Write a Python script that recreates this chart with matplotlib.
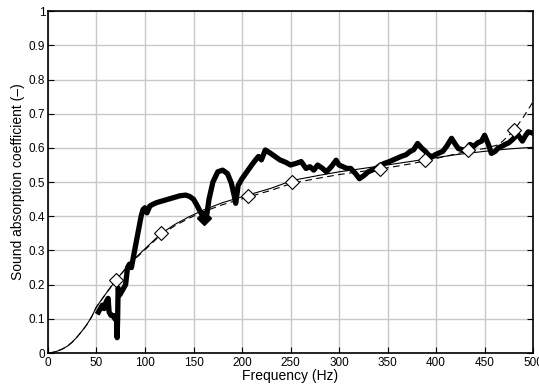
import matplotlib
matplotlib.use("Agg")
import matplotlib.pyplot as plt
import numpy as np

plt.rcParams['font.family'] = ['Liberation Sans', 'DejaVu Sans']

# measured absorption (thick line)
meas_f = [52, 54, 56, 58, 60, 62, 63, 65, 67, 69, 70.5, 71.3, 71.8, 72.3, 74, 76, 78, 80, 82, 84,
          86, 88, 90, 92, 94, 96, 98, 100, 102, 105, 108, 112, 118, 124, 130, 136, 142, 146,
          150, 154, 157, 160, 162, 164, 166, 170, 175, 180, 185, 189, 192, 193.5, 196, 200,
          205, 210, 214, 217, 220, 224, 229, 234, 239, 245, 250, 256, 261, 266, 270, 274, 278,
          283, 287, 292, 297, 300, 304, 308, 312, 317, 321, 326, 330, 334, 338, 343, 347, 352,
          356, 360, 364, 369, 373, 377, 381, 385, 389, 392, 396, 399, 403, 407, 411, 416, 420,
          423, 427, 430, 435, 439, 443, 447, 450, 454, 457, 461, 464, 468, 471, 475, 479, 484,
          489, 492, 495, 500]
meas_a = [0.12, 0.13, 0.14, 0.13, 0.15, 0.16, 0.12, 0.11, 0.11, 0.10, 0.11, 0.045, 0.10, 0.19,
          0.17, 0.18, 0.19, 0.20, 0.25, 0.26, 0.25, 0.28, 0.31, 0.34, 0.37, 0.40, 0.42, 0.425,
          0.41, 0.43, 0.435, 0.44, 0.445, 0.45, 0.455, 0.46, 0.462, 0.458, 0.45, 0.43, 0.413,
          0.40, 0.39, 0.41, 0.45, 0.50, 0.53, 0.535, 0.525, 0.497, 0.46, 0.438, 0.49, 0.51,
          0.53, 0.55, 0.565, 0.575, 0.565, 0.594, 0.585, 0.575, 0.565, 0.558, 0.55, 0.555,
          0.56, 0.54, 0.545, 0.535, 0.55, 0.54, 0.53, 0.545, 0.564, 0.55, 0.545, 0.54, 0.54,
          0.525, 0.51, 0.52, 0.53, 0.535, 0.54, 0.55, 0.555, 0.56, 0.565, 0.57, 0.575, 0.58,
          0.589, 0.595, 0.613, 0.60, 0.59, 0.58, 0.574, 0.58, 0.585, 0.59, 0.605, 0.628, 0.61,
          0.598, 0.595, 0.59, 0.61, 0.605, 0.615, 0.62, 0.637, 0.61, 0.584, 0.59, 0.60, 0.605,
          0.61, 0.615, 0.625, 0.64, 0.62, 0.635, 0.647, 0.643]

# model curve (thin solid)
model_f = [0, 5, 10, 15, 20, 25, 30, 35, 40, 45, 50, 60, 70, 80, 90, 100, 116, 130, 145, 160,
           180, 206, 230, 252, 280, 300, 320, 342, 373, 389, 420, 450, 475, 500]
model_a = [0, 0.002, 0.006, 0.012, 0.02, 0.032, 0.047, 0.064, 0.083, 0.106, 0.135, 0.175,
           0.213, 0.247, 0.278, 0.305, 0.348, 0.375, 0.398, 0.418, 0.44, 0.462, 0.482, 0.505,
           0.52, 0.53, 0.538, 0.547, 0.56, 0.567, 0.58, 0.59, 0.597, 0.602]

# second model (thin dashed)
model2_f = [0, 5, 10, 15, 20, 25, 30, 35, 40, 45, 50, 60, 70, 80, 90, 100, 116, 130, 145, 160,
            180, 206, 230, 252, 280, 300, 320, 342, 373, 389, 420, 433, 450, 465, 480, 490, 500]
model2_a = [0, 0.002, 0.006, 0.012, 0.02, 0.032, 0.047, 0.064, 0.083, 0.106, 0.135, 0.175,
            0.213, 0.246, 0.276, 0.302, 0.345, 0.371, 0.394, 0.413, 0.434, 0.456, 0.476, 0.497,
            0.512, 0.522, 0.53, 0.538, 0.553, 0.562, 0.582, 0.591, 0.598, 0.61, 0.65, 0.69, 0.735]

# diamond markers on the dashed curve
mark_f = [70, 116.5, 206, 252, 342, 389, 433, 480]
mark_a = [0.213, 0.35, 0.459, 0.50, 0.537, 0.566, 0.594, 0.652]
mark_filled_f = [161]
mark_filled_a = [0.394]

fig = plt.figure(figsize=(5.39, 3.85), dpi=100)
ax = fig.add_axes([0.089, 0.083, 0.9, 0.888])

ax.plot(meas_f, meas_a, color='black', lw=3.8, solid_joinstyle='round', zorder=3)
ax.plot(model_f, model_a, color='black', lw=0.8, zorder=4)
ax.plot(model2_f, model2_a, color='black', lw=0.8, ls=(0, (6, 4)), zorder=4)
ax.plot(mark_f, mark_a, ls='none', marker='D', ms=7, mfc='white', mec='black', mew=0.8, zorder=5)
ax.plot(mark_filled_f, mark_filled_a, ls='none', marker='D', ms=7, mfc='black', mec='black',
        zorder=5)

ax.set_xlim(0, 500)
ax.set_ylim(0, 1)
ax.set_xticks(np.arange(0, 501, 50))
ax.set_yticks(np.arange(0, 1.01, 0.1))
ax.set_yticklabels(['0', '0.1', '0.2', '0.3', '0.4', '0.5', '0.6', '0.7', '0.8', '0.9', '1'])
ax.grid(True, color='#c8c8c8', lw=1)
ax.set_axisbelow(True)
ax.tick_params(direction='in', length=4, width=0.8, labelsize=8.5, top=True, right=True,
               pad=2)
ax.tick_params(axis='x', top=False, pad=3)
for s in ax.spines.values():
    s.set_linewidth(1.2)

ax.set_xlabel('Frequency (Hz)', fontsize=10, labelpad=0)
ax.set_ylabel('Sound absorption coefficient (\u2013)', fontsize=10, labelpad=3)

fig.savefig('out.png', dpi=100)
